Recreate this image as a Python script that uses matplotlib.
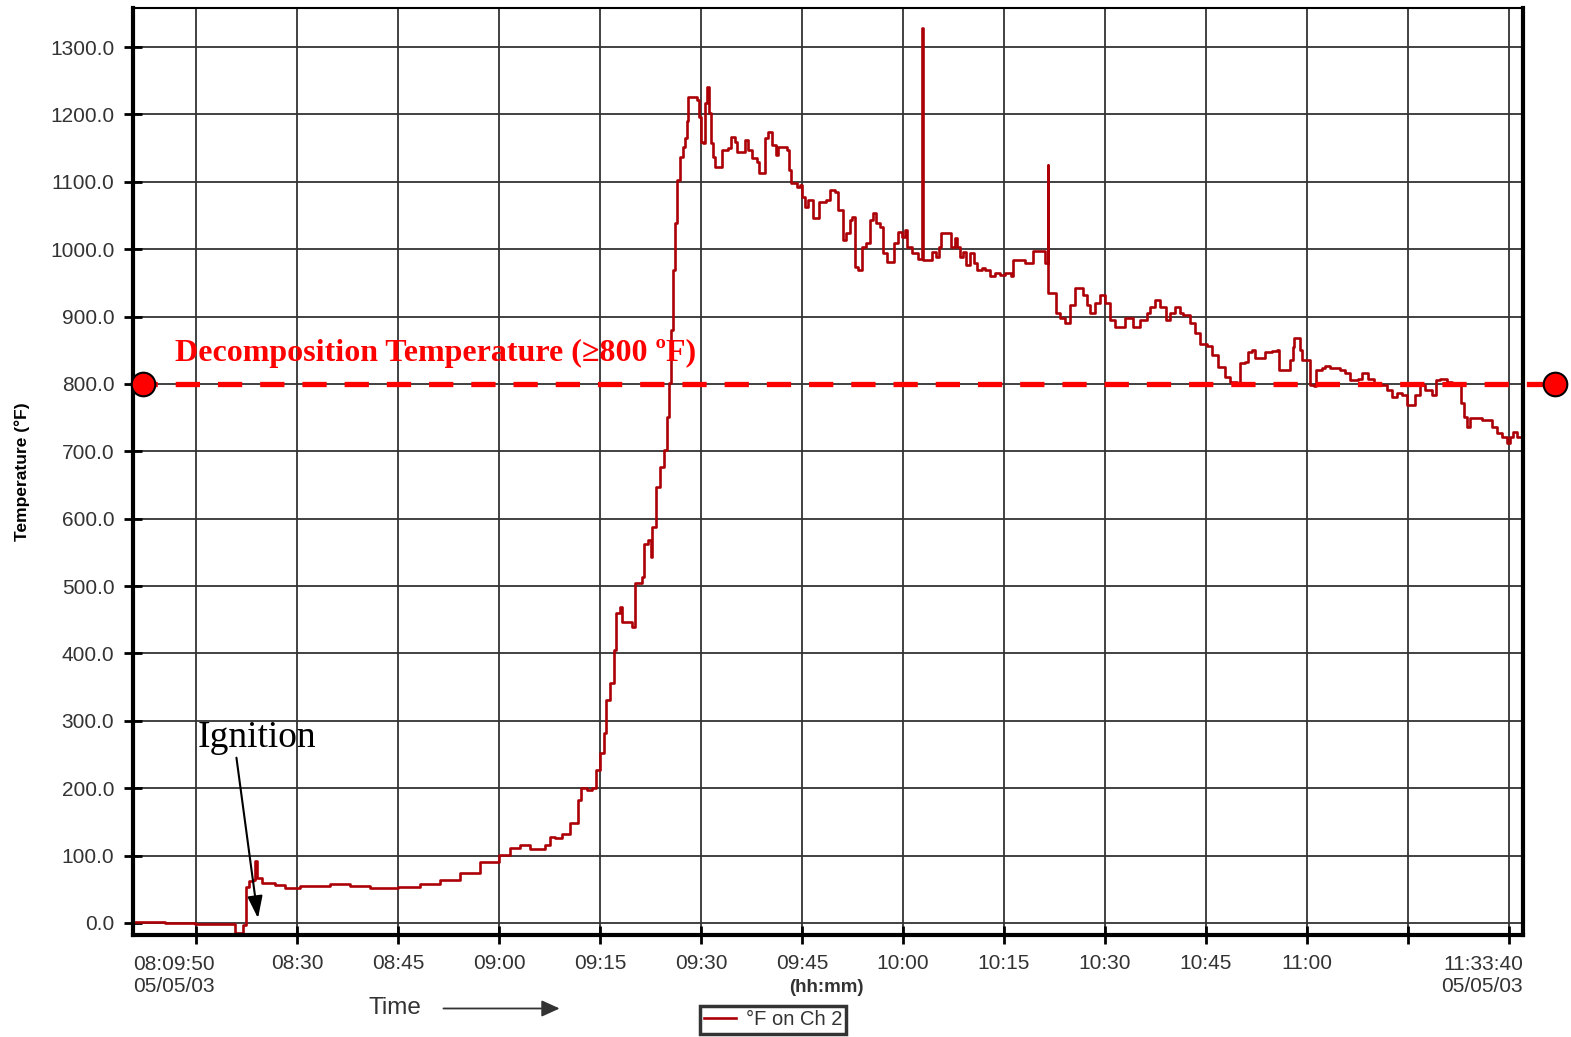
import matplotlib
matplotlib.use("Agg")
import matplotlib.pyplot as plt

plt.rcParams["font.family"] = ["Liberation Sans", "DejaVu Sans"]

# minutes after 08:00 and channel 2 temperature (deg F)
t_min = [5.64, 10.4, 14.85, 20.05, 20.8, 22.0, 22.4, 22.9, 23.5, 23.8, 24.1, 24.8, 26.7, 28.2,
         30.4, 34.9, 37.9, 40.8, 45.0, 48.3, 51.2, 54.2, 57.2, 60.0, 61.6, 63.1, 64.6, 66.8,
         67.6, 68.3, 69.4, 70.5, 71.7, 72.2, 73.1, 73.8, 74.4, 75.0, 75.6, 75.9, 76.5, 77.1,
         77.4, 78.0, 78.3, 79.8, 80.2, 81.2, 81.5, 82.1, 82.6, 82.7, 83.3, 83.9, 84.5, 85.0,
         85.2, 85.5, 85.8, 86.1, 86.4, 86.9, 87.3, 87.6, 87.9, 88.1, 89.1, 89.4, 89.7, 90.0,
         90.3, 90.6, 90.9, 91.2, 91.5, 91.8, 92.1, 92.8, 93.1, 94.0, 94.5, 95.1, 95.3, 96.2,
         96.5, 97.0, 97.6, 98.3, 98.6, 99.2, 99.5, 100.0, 100.5, 101.1, 101.4, 102.3, 102.8,
         103.1, 103.4, 104.3, 104.7, 105.0, 105.4, 105.9, 106.6, 107.2, 107.5, 108.6, 109.2,
         109.9, 110.3, 111.1, 111.5, 112.1, 112.4, 112.9, 113.3, 113.9, 114.5, 115.1, 115.5,
         116.0, 116.6, 117.0, 117.6, 118.4, 118.7, 119.3, 119.9, 120.3, 120.6, 121.3, 122.2,
         122.8, 122.9, 123.7, 124.3, 124.9, 125.3, 125.6, 127.0, 127.1, 127.7, 128.0, 128.5,
         128.9, 129.4, 130.0, 130.5, 131.0, 131.7, 132.2, 132.9, 133.7, 134.4, 135.2, 136.0,
         136.3, 137.8, 138.1, 138.9, 139.3, 140.6, 141.1, 141.5, 141.6, 142.6, 142.7, 143.3,
         144.1, 144.8, 145.5, 146.3, 146.7, 147.3, 147.8, 148.5, 149.3, 150.0, 150.7, 151.5,
         152.5, 153.0, 153.7, 154.2, 154.9, 155.2, 156.2, 156.7, 157.4, 158.2, 159.1, 159.7,
         160.4, 161.1, 161.6, 162.6, 163.4, 164.1, 165.2, 165.9, 166.8, 167.8, 168.6, 169.6,
         170.1, 170.8, 171.2, 171.8, 172.3, 173.3, 173.8, 174.8, 175.5, 175.8, 177.0, 177.5,
         177.9, 178.1, 178.7, 179.0, 179.3, 180.0, 180.5, 181.0, 181.3, 182.2, 182.7, 183.4,
         184.9, 185.6, 186.4, 187.6, 188.2, 189.1, 190.0, 190.8, 191.9, 192.6, 193.4, 194.1,
         194.9, 195.7, 196.0, 196.8, 197.5, 198.6, 199.2, 199.8, 200.8, 201.5, 202.4, 202.9,
         203.3, 203.8, 204.2, 205.4, 206.0, 206.9, 207.5, 208.2, 209.0, 209.7, 210.2, 210.6,
         211.2, 211.9]
temp_f = [2, 0, -1, -2, -15, -3, 53, 62, 64, 92, 67, 60, 56, 52,
          55, 58, 55, 52, 53, 58, 64, 74, 90, 101, 111, 116, 110, 116,
          128, 126, 132, 148, 182, 200, 197, 200, 227, 252, 282, 331, 356, 405,
          460, 469, 446, 439, 505, 513, 563, 568, 543, 588, 647, 677, 702, 751,
          801, 880, 969, 1039, 1103, 1137, 1152, 1165, 1190, 1226, 1226, 1221, 1196, 1159,
          1157, 1217, 1241, 1202, 1157, 1137, 1122, 1122, 1147, 1150, 1166, 1159, 1144, 1144,
          1162, 1147, 1135, 1129, 1113, 1113, 1165, 1174, 1154, 1140, 1152, 1152, 1147,
          1117, 1098, 1092, 1095, 1077, 1063, 1073, 1046, 1046, 1070, 1073, 1088,
          1085, 1058, 1014, 1024, 1043, 1048, 973, 969, 1003, 1009, 1043, 1054,
          1039, 1033, 994, 981, 981, 1009, 1025, 1018, 1028, 1003, 994, 986,
          1328, 984, 984, 996, 988, 1003, 1024, 1024, 1003, 1016, 1003, 988,
          996, 976, 994, 979, 969, 972, 969, 960, 964, 962, 964, 960,
          984, 984, 979, 979, 998, 998, 979, 1125, 935, 935, 905, 898,
          890, 917, 942, 942, 932, 917, 905, 920, 932, 920, 895, 884,
          884, 898, 898, 884, 884, 895, 905, 914, 924, 914, 895, 905,
          914, 905, 902, 890, 875, 860, 857, 843, 825, 810, 803, 801,
          831, 832, 847, 850, 838, 838, 847, 849, 850, 821, 821, 835,
          855, 868, 868, 850, 835, 835, 798, 797, 821, 823, 827, 823,
          821, 816, 806, 808, 816, 808, 801, 798, 791, 781, 786, 783,
          769, 769, 783, 798, 791, 783, 806, 808, 803, 798, 798, 772,
          751, 736, 749, 749, 746, 746, 736, 727, 721, 712, 721, 729,
          721, 721]

tick_min = [15, 30, 45, 60, 75, 90, 105, 120, 135, 150, 165, 180, 195, 210]
tick_lbl = ["", "08:30", "08:45", "09:00", "09:15", "09:30", "09:45", "10:00",
            "10:15", "10:30", "10:45", "11:00", "", ""]
decomp_temp = 800
decomp_x = [7.1, 216.8]

fig = plt.figure(figsize=(15.71, 10.37), dpi=100)
ax = fig.add_axes([0.0847, 0.0984, 0.8848, 0.8939])
ax.set_xlim(5.64, 212.1)
ax.set_ylim(-17.8, 1358)

ax.plot(t_min, temp_f, color="#ac0006", lw=1.9, drawstyle="steps-post", label="°F on Ch 2")

ax.set_yticks(range(0, 1301, 100))
ax.set_yticklabels([f"{v:.1f}" for v in range(0, 1301, 100)])
ax.set_xticks(tick_min)
ax.set_xticklabels(tick_lbl)
ax.grid(True, color="#333333", lw=1.3)
ax.tick_params(axis="both", direction="inout", length=13, width=2, labelsize=15,
               labelcolor="#333333")
ax.tick_params(axis="x", pad=7)
ax.tick_params(axis="y", pad=7)
for side in ["left", "bottom", "right"]:
    ax.spines[side].set_linewidth(3)
ax.spines["top"].set_linewidth(1.5)

ax.text(5.64, -48, "08:09:50\n05/05/03", ha="left", va="top", fontsize=15,
        color="#333333", linespacing=1.2)
ax.text(212.1, -48, "11:33:40\n05/05/03", ha="right", va="top", fontsize=15,
        color="#333333", linespacing=1.2)
ax.set_ylabel("Temperature (°F)", fontsize=12.5, fontweight="bold", labelpad=14)

# decomposition threshold line with end markers
ax.plot([5.64, decomp_x[1]], [decomp_temp, decomp_temp], color="#ff0000", lw=3.8,
        dashes=(4.6, 3.4), clip_on=False, zorder=5)
ax.plot(decomp_x, [decomp_temp] * 2, "o", ms=17, mfc="#ff0000", mec="black", mew=1.5,
        clip_on=False, zorder=6)
ax.text(11.8, 845, "Decomposition Temperature (≥800 ºF)", color="#ff0000",
        fontsize=23, fontweight="bold", family=["Liberation Serif", "DejaVu Serif"],
        va="center", ha="left")

ax.annotate("Ignition", xy=(24.2, 7), xytext=(15.3, 275), fontsize=27,
            family="Liberation Serif", ha="left", va="center",
            arrowprops=dict(arrowstyle="-|>,head_width=0.17,head_length=0.5", color="black",
                            lw=1.5, shrinkA=0, shrinkB=0, relpos=(0.32, 0.0)))

fig.text(0.5258, 0.0477, "(hh:mm)", ha="center", va="center", fontsize=13.5,
         fontweight="bold", color="#333333")
fig.text(0.2514, 0.0275, "Time", ha="center", va="center", fontsize=17.5, color="#333333")
fig.add_artist(matplotlib.patches.FancyArrowPatch((0.2805, 0.0275), (0.358, 0.0275),
               transform=fig.transFigure, arrowstyle="-|>,head_width=5,head_length=11",
               color="#333333", lw=1.3))

leg = fig.legend(loc="center", bbox_to_anchor=(0.492, 0.0164), fontsize=14.5,
                 frameon=True, fancybox=False, edgecolor="black", handlelength=1.6,
                 borderpad=0.2, handletextpad=0.5)
leg.get_frame().set_linewidth(2.5)
for txt in leg.get_texts():
    txt.set_color("#333333")

fig.savefig("out.png", dpi=100)
